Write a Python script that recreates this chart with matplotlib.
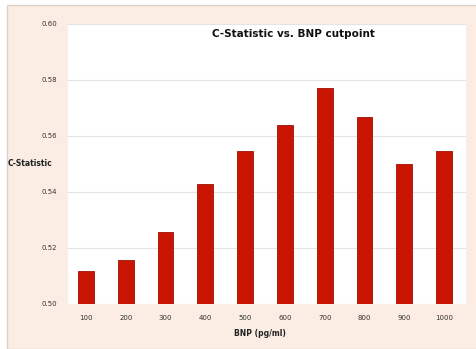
import matplotlib
matplotlib.use("Agg")
import matplotlib.pyplot as plt
from matplotlib.patches import Rectangle

# BNP cutpoints and the c-statistic obtained at each
cutpoints = ["100", "200", "300", "400", "500", "600", "700", "800", "900", "1000"]
c_stat = [0.5118, 0.5157, 0.5258, 0.5427, 0.5548, 0.5639, 0.5770, 0.5669, 0.5499, 0.5548]
y_ticks = [0.50, 0.52, 0.54, 0.56, 0.58, 0.60]

W, H = 477, 349
fig = plt.figure(figsize=(W / 100, H / 100), dpi=100)
fig.patch.set_facecolor("white")

# peach chart-area backdrop with a faint frame, kept behind the axes
fig.patches.append(Rectangle((7 / W, 0), 1 - 7 / W, 1 - 5 / H, transform=fig.transFigure,
                             facecolor="#fbede3", edgecolor="#d9d2cc", linewidth=1.0,
                             zorder=-5))

ax = fig.add_axes([68 / W, 1 - 304 / H, 398 / W, 280 / H])
ax.set_zorder(2)
ax.set_facecolor("white")

x = range(len(cutpoints))
ax.bar(x, c_stat, width=0.4, color="#c81400", edgecolor="#9e1005", linewidth=0.6, zorder=3)

ax.set_xlim(-0.45, 9.55)
ax.set_ylim(0.50, 0.60)
ax.set_yticks(y_ticks)
ax.set_yticklabels([f"{v:.2f}" for v in y_ticks], fontsize=5, color="#333333")
ax.set_xticks(list(x))
ax.set_xticklabels(cutpoints, fontsize=5, color="#333333")
ax.tick_params(length=0, pad=8)
ax.yaxis.grid(True, color="#e4e4e4", linewidth=0.8, zorder=0)
ax.set_axisbelow(True)
for s in ax.spines.values():
    s.set_visible(False)

fig.text(293 / W, 1 - 34 / H, "C-Statistic vs. BNP cutpoint", ha="center", va="center",
         fontsize=7.5, fontweight="bold", color="#111111", zorder=5)
fig.text(30 / W, 1 - 164 / H, "C-Statistic", ha="center", va="center",
         fontsize=5.5, fontweight="bold", color="#222222")
fig.text(260 / W, 1 - 333 / H, "BNP (pg/ml)", ha="center", va="center",
         fontsize=5.5, fontweight="bold", color="#222222")

fig.savefig("out.png", dpi=100, facecolor=fig.get_facecolor())
